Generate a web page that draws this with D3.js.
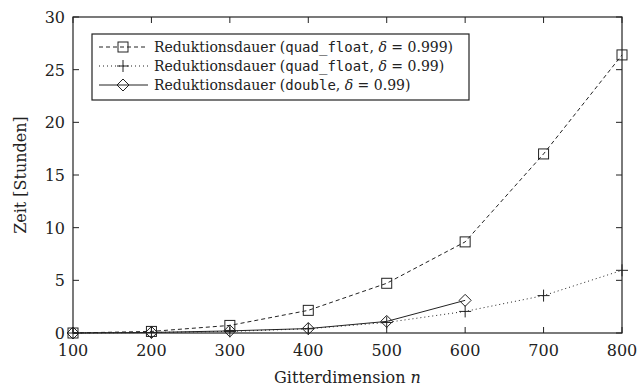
<!DOCTYPE html>
<html>
<head>
<meta charset="utf-8">
<script src="https://cdn.jsdelivr.net/npm/d3@7"></script>
<style>
body { margin:0; background:#fff; }
svg text { font-family: "DejaVu Serif", serif; fill:#222; }
svg .tt { font-family: "DejaVu Sans Mono", monospace; }
</style>
</head>
<body>
<svg id="chart"></svg>
<script>
// data (Stunden)
var dims = [100, 200, 300, 400, 500, 600, 700, 800];
var quadFloat999 = [0, 0.15, 0.72, 2.15, 4.72, 8.65, 17.0, 26.4];
var quadFloat99 = [0, 0.05, 0.15, 0.4, 1.0, 2.05, 3.55, 5.95];
var double99 = [0, 0.05, 0.2, 0.42, 1.1, 3.1];
var xTicks = [100, 200, 300, 400, 500, 600, 700, 800];
var yTicks = [0, 5, 10, 15, 20, 25, 30];

var screen = {width:637, height:390};
var margins = {top:17, bottom:57, left:73, right:15};
var graph =
{
    width:screen.width-margins.left-margins.right,
    height:screen.height-margins.top-margins.bottom
}

var svg = d3.select("#chart")
    .attr("width",screen.width)
    .attr("height",screen.height)

var xScale = d3.scaleLinear().domain([100,800]).range([0,graph.width]);
var yScale = d3.scaleLinear().domain([0,30]).range([graph.height,0]);

var g = svg.append("g")
    .attr("transform","translate("+margins.left+","+margins.top+")");

var ink = "#222";

// frame
g.append("rect")
    .attr("width",graph.width)
    .attr("height",graph.height)
    .attr("fill","none")
    .attr("stroke",ink)
    .attr("stroke-width",1.2)

// inward ticks on all four sides
var tl = 6;
xTicks.forEach(function(t)
{
    g.append("line").attr("x1",xScale(t)).attr("x2",xScale(t))
        .attr("y1",graph.height).attr("y2",graph.height-tl).attr("stroke",ink);
    g.append("line").attr("x1",xScale(t)).attr("x2",xScale(t))
        .attr("y1",0).attr("y2",tl).attr("stroke",ink);
    g.append("text").text(t)
        .attr("x",xScale(t)).attr("y",graph.height+23)
        .attr("text-anchor","middle").style("font-size","16px")
});
yTicks.forEach(function(t)
{
    g.append("line").attr("x1",0).attr("x2",tl)
        .attr("y1",yScale(t)).attr("y2",yScale(t)).attr("stroke",ink);
    g.append("line").attr("x1",graph.width).attr("x2",graph.width-tl)
        .attr("y1",yScale(t)).attr("y2",yScale(t)).attr("stroke",ink);
    g.append("text").text(t)
        .attr("x",-8).attr("y",yScale(t)+6)
        .attr("text-anchor","end").style("font-size","16px")
});

// axis labels
var xl = svg.append("text")
    .attr("x",margins.left+graph.width/2).attr("y",screen.height-7)
    .attr("text-anchor","middle").style("font-size","16px");
xl.append("tspan").text("Gitterdimension ");
xl.append("tspan").text("n").style("font-style","italic");

svg.append("g")
    .attr("transform","translate(26,"+(margins.top+graph.height/2)+")")
    .append("text")
    .text("Zeit [Stunden]")
    .attr("text-anchor","middle")
    .attr("transform","rotate(-90)")
    .style("font-size","16px")

// series
var series = [
    {name:"quad_float", delta:"0.999", values:quadFloat999, dash:"4,3", marker:"square"},
    {name:"quad_float", delta:"0.99", values:quadFloat99, dash:"1,3", marker:"plus"},
    {name:"double", delta:"0.99", values:double99, dash:null, marker:"diamond"}
];

var line = d3.line()
    .x(function(d){return xScale(d.x)})
    .y(function(d){return yScale(d.y)});

var drawMarker = function(sel, type, x, y)
{
    if(type=="square")
    {
        sel.append("rect").attr("x",x-5).attr("y",y-5).attr("width",10).attr("height",10)
            .attr("fill","none").attr("stroke",ink).attr("stroke-width",1);
    }
    else if(type=="plus")
    {
        sel.append("path").attr("d","M"+(x-6)+","+y+"H"+(x+6)+"M"+x+","+(y-6)+"V"+(y+6))
            .attr("stroke",ink).attr("stroke-width",1);
    }
    else
    {
        sel.append("path").attr("d","M"+x+","+(y-6)+"L"+(x+6)+","+y+"L"+x+","+(y+6)+"L"+(x-6)+","+y+"Z")
            .attr("fill","none").attr("stroke",ink).attr("stroke-width",1);
    }
}

series.forEach(function(s)
{
    var pts = s.values.map(function(v,i){return {x:dims[i], y:v}});
    g.append("path")
        .datum(pts)
        .attr("d",line)
        .attr("fill","none")
        .attr("stroke",ink)
        .attr("stroke-width",1)
        .attr("stroke-dasharray",s.dash)
    pts.forEach(function(p){ drawMarker(g, s.marker, xScale(p.x), yScale(p.y)); });
});

// legend
var legend = svg.append("g").attr("transform","translate(92,34)");
legend.append("rect")
    .attr("width",377).attr("height",66)
    .attr("fill","#fff").attr("stroke",ink).attr("stroke-width",1.2)

series.forEach(function(s,i)
{
    var y = 13+i*19;
    legend.append("line").attr("x1",7).attr("x2",56).attr("y1",y).attr("y2",y)
        .attr("stroke",ink).attr("stroke-width",1).attr("stroke-dasharray",s.dash);
    drawMarker(legend, s.marker, 31, y);
    var t = legend.append("text").attr("x",62).attr("y",y+5).style("font-size","14px");
    t.append("tspan").text("Reduktionsdauer (");
    t.append("tspan").text(s.name).attr("class","tt").style("font-size","14px");
    t.append("tspan").text(", ");
    t.append("tspan").text("δ").style("font-style","italic");
    t.append("tspan").text(" = " + s.delta + ")");
});
</script>
</body>
</html>
